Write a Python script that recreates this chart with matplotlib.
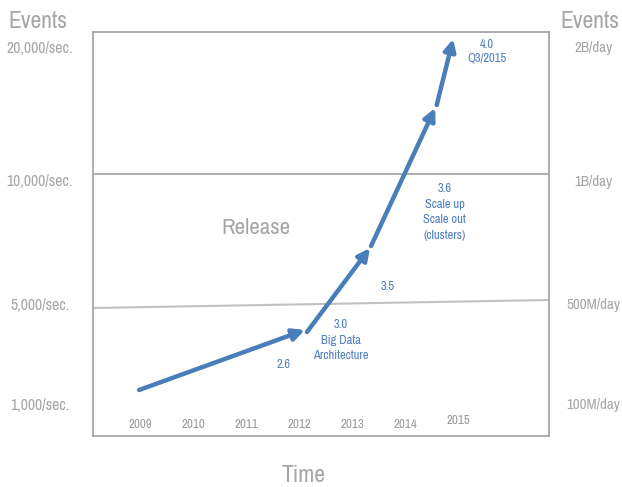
import matplotlib.pyplot as plt
from matplotlib import font_manager as fm

# release path, (year, level) pairs: start and tip of each arrow
seg_start_x = [2008.98, 2012.15, 2013.36, 2014.60]
seg_start_y = [46, 104, 190, 331]
seg_end_x = [2012.11, 2013.34, 2014.57, 2014.91]
seg_end_y = [106, 188, 328, 397]

years = [2009, 2010, 2011, 2012, 2013, 2014, 2015]
year_y = [12, 12, 12, 12, 12, 12, 15]

left_labels = ['20,000/sec.', '10,000/sec.', '5,000/sec.', '1,000/sec.']
right_labels = ['2B/day', '1B/day', '500M/day', '100M/day']
label_levels = [388, 254, 131, 31]

releases = ['2.6', '3.0\nBig Data\nArchitecture', '3.5',
            '3.6\nScale up\nScale out\n(clusters)', '4.0\nQ3/2015']
release_x = [2011.70, 2012.79, 2013.68, 2014.75, 2015.55]
release_y = [72, 96, 150, 224, 385]

# look for a narrow face, the slide used one
narrow = None
for f in fm.fontManager.ttflist:
    if 'Narrow' in f.name or 'Condensed' in f.name:
        narrow = f.name
        break
FONT = ([narrow] if narrow else []) + ['Liberation Sans', 'DejaVu Sans']
GREY = '#a6a6a6'
BLUE = '#4a7ebb'
TXT_BLUE = '#4f7fc0'

plt.rcParams['font.family'] = FONT
k = 1.0 if narrow else 0.9

fig = plt.figure(figsize=(6.22, 4.87), dpi=100)
ax = fig.add_axes([93 / 622, 51 / 487, 456 / 622, 404 / 487])
ax.set_xlim(2008.11, 2016.72)
ax.set_ylim(0, 404)
ax.set_xticks([])
ax.set_yticks([])
for s in ax.spines.values():
    s.set_color('#a0a0a0')
    s.set_linewidth(1.2)

ax.axhline(262, color='#a0a0a0', lw=1.2)
ax.plot([2008.11, 2016.72], [128, 136], color='#c0c0c0', lw=1.5)

for i in range(len(seg_start_x)):
    ax.annotate('', xy=(seg_end_x[i], seg_end_y[i]),
                xytext=(seg_start_x[i], seg_start_y[i]),
                arrowprops=dict(arrowstyle='-|>,head_length=0.7,head_width=0.35',
                                lw=3.2, color=BLUE, shrinkA=0, shrinkB=0))

for yr, yy in zip(years, year_y):
    ax.text(yr, yy, str(yr), ha='center', va='center', fontsize=9.3 * k, color='#999999')

for t, x, y in zip(releases, release_x, release_y):
    ls = 1.3 if t.startswith('4.0') else 1.5
    ax.text(x, y, t, ha='center', va='center', fontsize=9 * k, color=TXT_BLUE,
            linespacing=ls)

ax.text(2011.19, 208, 'Release', ha='center', va='center', fontsize=16.5 * k, color=GREY)

trans_l = ax.get_yaxis_transform()
for t, y in zip(left_labels, label_levels):
    ax.text(-0.117, y, t, transform=trans_l, ha='center', va='center',
            fontsize=11.3 * k, color=GREY, clip_on=False)
for t, y in zip(right_labels, label_levels):
    ax.text(1.098, y, t, transform=trans_l, ha='center', va='center',
            fontsize=10.8 * k, color=GREY, clip_on=False)

fig.text(38 / 622, 1 - 21 / 487, 'Events', ha='center', va='center', fontsize=17 * k, color=GREY)
fig.text(590 / 622, 1 - 21 / 487, 'Events', ha='center', va='center', fontsize=17 * k, color=GREY)
fig.text(303 / 622, 1 - 475 / 487, 'Time', ha='center', va='center', fontsize=17 * k, color=GREY)

fig.savefig('out.png', dpi=100)
